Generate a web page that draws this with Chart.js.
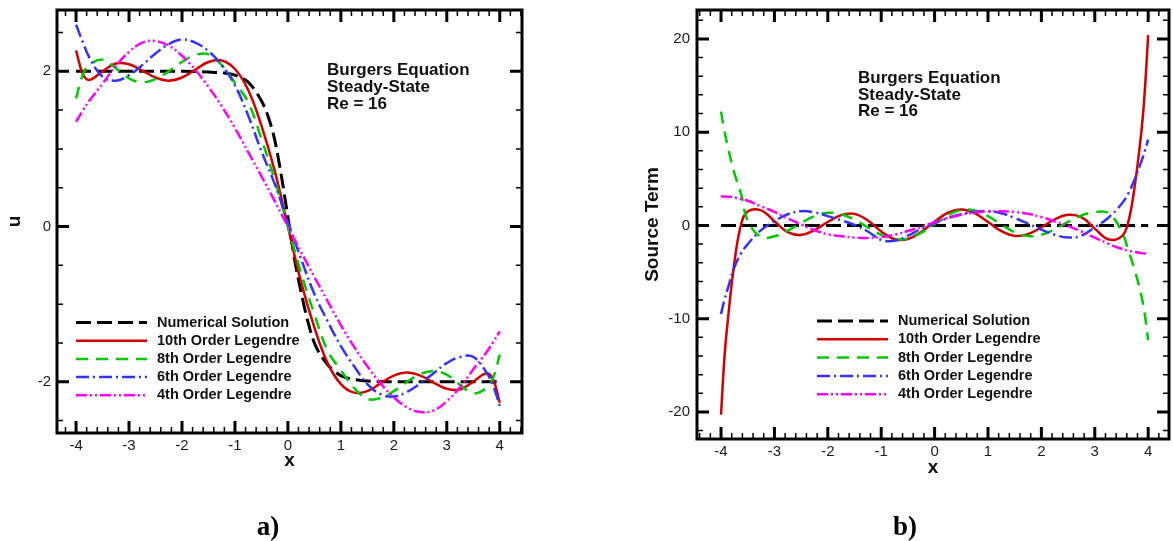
<!DOCTYPE html>
<html>
<head>
<meta charset="utf-8">
<script src="https://cdn.jsdelivr.net/npm/chart.js@4.4.1/dist/chart.umd.min.js"></script>
<style>
  body { margin: 0; background: #fff; }
  #wrap { position: relative; width: 1173px; height: 541px; }
  .panel { position: absolute; top: 0; height: 541px; }
  #pa { left: 0; width: 586px; }
  #pb { left: 586px; width: 587px; }
</style>
</head>
<body>
<div id="wrap">
  <div class="panel" id="pa"><canvas id="ca"></canvas></div>
  <div class="panel" id="pb"><canvas id="cb"></canvas></div>
</div>
<script>
// ---- data ----
const seriesNames = ['Numerical Solution', '10th Order Legendre', '8th Order Legendre', '6th Order Legendre', '4th Order Legendre'];
const noteLines = ['Burgers Equation', 'Steady-State', 'Re = 16'];

// panel a) : u(x)
const xsA = [-4,-3.875,-3.75,-3.5,-3.25,-3,-2.75,-2.5,-2.25,-2,-1.75,-1.5,-1.25,-1,-0.75,-0.5,-0.25,0,
             0.25,0.5,0.75,1,1.25,1.5,1.75,2,2.25,2.5,2.75,3,3.25,3.5,3.75,3.875,4];
const numXA = [-4,-3,-2,-1.5,-1.25,-1,-0.75,-0.5,-0.375,-0.25,-0.125,0,0.125,0.25,0.375,0.5,0.75,1,1.25,1.5,2,3,4];
const numA  = [2,2,2,1.99,1.98,1.95,1.86,1.62,1.42,1.12,0.66,0.12,-0.42,-0.85,-1.22,-1.50,-1.78,-1.92,-1.97,-1.99,-2,-2,-2];
const ord10A = [2.27,1.97,1.89,2.00,2.10,2.09,2.01,1.92,1.88,1.92,2.02,2.12,2.14,2.03,1.76,1.30,0.72,0,
                -0.72,-1.30,-1.76,-2.03,-2.14,-2.12,-2.02,-1.92,-1.88,-1.92,-2.01,-2.09,-2.10,-2.00,-1.89,-1.97,-2.27];
const ord8A  = [1.65,1.95,2.08,2.15,2.04,1.91,1.86,1.90,2.00,2.12,2.21,2.22,2.08,1.85,1.60,1.13,0.60,0,
                -0.60,-1.13,-1.60,-1.85,-2.08,-2.22,-2.21,-2.12,-2.00,-1.90,-1.86,-1.91,-2.04,-2.15,-2.08,-1.95,-1.65];
const ord6A  = [2.60,2.38,2.18,1.93,1.88,1.95,2.08,2.23,2.35,2.41,2.37,2.26,2.08,1.82,1.43,0.97,0.55,0.06,
                -0.42,-0.87,-1.22,-1.54,-1.80,-2.03,-2.16,-2.19,-2.13,-2.02,-1.89,-1.76,-1.68,-1.68,-1.88,-2.05,-2.31];
const ord4A  = [1.35,1.49,1.62,1.84,2.07,2.25,2.37,2.39,2.33,2.20,2.02,1.80,1.55,1.27,0.96,0.65,0.33,0,
                -0.33,-0.65,-0.96,-1.27,-1.55,-1.80,-2.02,-2.20,-2.33,-2.39,-2.37,-2.25,-2.07,-1.84,-1.62,-1.49,-1.35];

// panel b) : source term
const xsB = [-4,-3.9375,-3.875,-3.75,-3.625,-3.5,-3.25,-3,-2.75,-2.5,-2.25,-2,-1.75,-1.5,-1.25,-1,-0.75,-0.5,-0.25,0,
             0.25,0.5,0.75,1,1.25,1.5,1.75,2,2.25,2.5,2.75,3,3.25,3.5,3.625,3.75,3.875,3.9375,4];
const numXB = [-4,-2,0,2,4];
const numB  = [0,0,0,0,0];
const ord10B = [-20.3,-14.3,-10.3,-4.0,0.1,1.5,1.61,0.45,-0.71,-1.01,-0.5,0.37,1.1,1.24,0.53,-0.64,-1.47,-1.45,-0.7,0.42,
                1.36,1.71,1.31,0.37,-0.61,-1.13,-0.93,-0.21,0.65,1.14,0.88,-0.34,-1.48,-1.2,0.3,4.3,10.2,14.5,20.4];
const ord8B  = [12.2,10.2,8.5,5.6,3.4,0.5,-1.25,-1.16,-0.55,0.27,1.0,1.35,1.2,0.62,-0.21,-1.0,-1.47,-1.4,-0.8,0.15,
                1.1,1.65,1.61,1.0,0.1,-0.73,-1.14,-1.0,-0.42,0.38,1.07,1.41,1.35,-0.6,-2.6,-4.8,-7.6,-9.6,-12.3];
const ord6B  = [-9.5,-8.0,-6.8,-4.5,-3.0,-2.0,-0.5,0.45,1.2,1.53,1.4,1.0,0.55,0.05,-0.65,-1.55,-1.65,-1.1,-0.35,0.25,
                0.8,1.2,1.47,1.52,1.3,0.8,0.2,-0.45,-1.0,-1.3,-1.1,-0.2,0.8,2.3,3.4,5.0,6.9,8.0,9.2];
const ord4B  = [3.1,3.1,3.08,3.0,2.85,2.65,2.05,1.45,0.75,0.1,-0.5,-0.95,-1.15,-1.3,-1.35,-1.25,-1.0,-0.6,-0.15,0.35,
                0.8,1.15,1.38,1.5,1.53,1.45,1.25,0.9,0.45,-0.05,-0.65,-1.3,-1.95,-2.5,-2.7,-2.85,-2.97,-3.0,-3.0];

// ---- styling ----
const SANS = '"Liberation Sans", Arial, Helvetica, sans-serif';
const styles = [
  { color: '#000000', width: 3,   dash: [15, 6] },
  { color: '#d10000', width: 2.5, dash: [] },
  { color: '#00c800', width: 2.5, dash: [12, 8] },
  { color: '#3333ff', width: 2.5, dash: [13, 4, 2, 4] },
  { color: '#ff00ff', width: 2.5, dash: [11, 3, 2, 3, 2, 3] }
];

function pts(xs, ys) { return xs.map((x, i) => ({ x: x, y: ys[i] })); }

function makeSets(groups) {
  return groups.map((g, i) => ({
    label: seriesNames[i],
    data: pts(g[0], g[1]),
    borderColor: styles[i].color,
    borderWidth: styles[i].width,
    borderDash: styles[i].dash,
    pointRadius: 0,
    fill: false,
    tension: 0.4,
    cubicInterpolationMode: i === 0 ? 'monotone' : 'default'
  })).reverse(); // numerical solution drawn first
}

function range(from, to, step) {
  const out = [];
  for (let v = from; v <= to + 1e-9; v += step) out.push(Math.round(v * 1000) / 1000);
  return out;
}

// frame, inward ticks, notes, legend, panel letter
const frameTicks = {
  id: 'frameTicks',
  afterDraw(chart, args, o) {
    const ctx = chart.ctx, a = chart.chartArea, sx = chart.scales.x, sy = chart.scales.y;
    ctx.save();
    ctx.strokeStyle = '#000';
    ctx.lineCap = 'butt';
    const inX = v => v >= sx.min && v <= sx.max;
    const inY = v => v >= sy.min && v <= sy.max;
    function xt(v, len, w) {
      const p = sx.getPixelForValue(v);
      ctx.lineWidth = w;
      ctx.beginPath();
      ctx.moveTo(p, a.bottom); ctx.lineTo(p, a.bottom - len);
      ctx.moveTo(p, a.top); ctx.lineTo(p, a.top + len);
      ctx.stroke();
    }
    function yt(v, len, w) {
      const p = sy.getPixelForValue(v);
      ctx.lineWidth = w;
      ctx.beginPath();
      ctx.moveTo(a.left, p); ctx.lineTo(a.left + len, p);
      ctx.moveTo(a.right, p); ctx.lineTo(a.right - len, p);
      ctx.stroke();
    }
    o.xMinor.filter(inX).forEach(v => xt(v, 6, 1.5));
    o.yMinor.filter(inY).forEach(v => yt(v, 6, 1.5));
    o.xMajor.filter(inX).forEach(v => xt(v, 12, 3));
    o.yMajor.filter(inY).forEach(v => yt(v, 12, 3));
    ctx.lineWidth = 3;
    ctx.strokeRect(a.left, a.top, a.right - a.left, a.bottom - a.top);

    // notes
    ctx.fillStyle = '#111';
    ctx.font = 'bold 17px ' + SANS;
    ctx.textAlign = 'left';
    ctx.textBaseline = 'alphabetic';
    noteLines.forEach((t, i) => ctx.fillText(t, o.note.x, o.note.y + i * o.note.dy));

    // legend
    const L = o.legend;
    ctx.font = 'bold 14.5px ' + SANS;
    ctx.textBaseline = 'middle';
    seriesNames.forEach((name, i) => {
      const y = L.y + i * L.dy;
      ctx.save();
      ctx.strokeStyle = styles[i].color;
      ctx.lineWidth = styles[i].width;
      ctx.setLineDash(styles[i].dash);
      ctx.beginPath();
      ctx.moveTo(L.x0, y); ctx.lineTo(L.x1, y);
      ctx.stroke();
      ctx.restore();
      ctx.fillStyle = '#111';
      ctx.fillText(name, L.tx, y);
    });

    // panel letter
    ctx.font = 'bold 27px "Liberation Serif", "Times New Roman", serif';
    ctx.textAlign = 'center';
    ctx.textBaseline = 'alphabetic';
    ctx.fillStyle = '#000';
    ctx.fillText(o.letter.text, o.letter.x, o.letter.y);
    ctx.restore();
  }
};

function axis(min, max, step, pad, fitSize, isX, title, titlePad) {
  return {
    type: 'linear',
    min: min, max: max,
    afterFit: s => {
      if (isX) s.height = fitSize; else s.width = fitSize;
      s.paddingTop = 0; s.paddingBottom = 0; s.paddingLeft = 0; s.paddingRight = 0;
    },
    grid: { display: false, drawTicks: false },
    border: { display: false },
    ticks: {
      stepSize: step, includeBounds: false, padding: pad, maxRotation: 0, autoSkip: false,
      color: '#1a1a1a', font: { family: SANS, size: 15 }
    },
    title: {
      display: true, text: title, color: '#111',
      font: { family: SANS, size: 19, weight: 'bold', lineHeight: 1.2 },
      padding: titlePad
    }
  };
}

function makeChart(id, sets, cfg) {
  return new Chart(document.getElementById(id), {
    type: 'line',
    data: { datasets: sets },
    options: {
      responsive: true,
      maintainAspectRatio: false,
      animation: false,
      events: [],
      layout: { padding: cfg.padding },
      plugins: { legend: { display: false }, tooltip: { enabled: false }, frameTicks: cfg.deco },
      scales: { x: cfg.x, y: cfg.y }
    },
    plugins: [frameTicks]
  });
}

const chartA = makeChart('ca', makeSets([[numXA, numA], [xsA, ord10A], [xsA, ord8A], [xsA, ord6A], [xsA, ord4A]]), {
  padding: { left: 0, top: 10, right: 64, bottom: 0 },
  x: axis(-4.36, 4.42, 1, 4, 108, true, 'x', { top: 0, bottom: 68.6 }),
  y: axis(-2.66, 2.79, 2, 6, 57, false, 'u', { top: 3.6, bottom: 0 }),
  deco: {
    xMajor: range(-4, 4, 1), xMinor: range(-4.4, 4.4, 0.2),
    yMajor: [-2, 0, 2], yMinor: range(-2.5, 2.5, 0.5),
    note: { x: 327, y: 75, dy: 17 },
    legend: { x0: 76, x1: 147, tx: 157, y: 322.5, dy: 18.2 },
    letter: { text: 'a)', x: 268, y: 535 }
  }
});

const chartB = makeChart('cb', makeSets([[numXB, numB], [xsB, ord10B], [xsB, ord8B], [xsB, ord6B], [xsB, ord4B]]), {
  padding: { left: 0, top: 10, right: 4, bottom: 0 },
  x: axis(-4.45, 4.39, 1, 4, 102, true, 'x', { top: 0, bottom: 61.6 }),
  y: axis(-22.9, 23.1, 10, 7, 111, false, 'Source Term', { top: 55.6, bottom: 0 }),
  deco: {
    xMajor: range(-4, 4, 1), xMinor: range(-4.4, 4.4, 0.2),
    yMajor: [-20, -10, 0, 10, 20], yMinor: range(-22, 22, 2),
    note: { x: 272, y: 83, dy: 16.5 },
    legend: { x0: 231, x1: 302, tx: 312, y: 321, dy: 18.3 },
    letter: { text: 'b)', x: 319, y: 535 }
  }
});
</script>
</body>
</html>
